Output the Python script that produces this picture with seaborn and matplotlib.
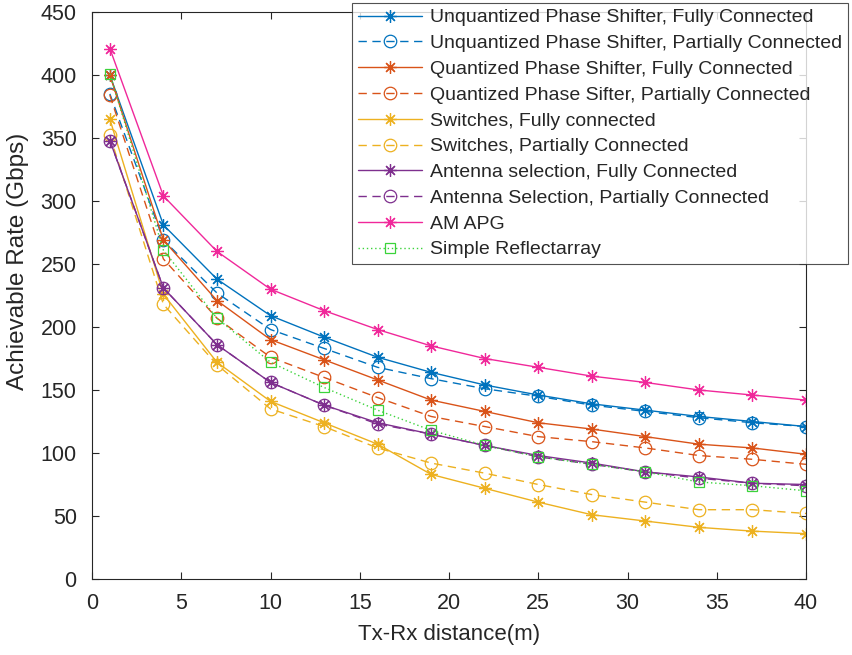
import matplotlib
matplotlib.use("Agg")
import matplotlib.pyplot as plt
import seaborn as sns
import pandas as pd

sns.set_theme(style="white")
plt.rcParams['font.family'] = ['Liberation Sans', 'DejaVu Sans']

distance = [1, 4, 7, 10, 13, 16, 19, 22, 25, 28, 31, 34, 37, 40]

ups_fc = [400, 281, 238, 209, 192, 176, 164, 154, 146, 139, 134, 129, 125, 121]
ups_pc = [385, 269, 227, 198, 183, 168, 159, 151, 145, 138, 133, 128, 124, 121]
qps_fc = [400, 269, 221, 190, 174, 158, 142, 133, 124, 119, 113, 107, 104, 99]
qps_pc = [384, 254, 207, 176, 160, 144, 129, 121, 113, 109, 104, 98, 95, 91]
sw_fc = [365, 226, 172, 141, 124, 107, 83, 72, 61, 51, 46, 41, 38, 36]
sw_pc = [352, 218, 170, 135, 121, 104, 92, 84, 75, 67, 61, 55, 55, 52]
as_fc = [348, 231, 186, 156, 138, 124, 115, 106, 98, 92, 85, 81, 76, 75]
as_pc = [348, 231, 186, 156, 138, 123, 115, 106, 97, 91, 85, 80, 76, 74]
am_apg = [421, 304, 260, 230, 213, 198, 185, 175, 168, 161, 156, 150, 146, 142]
simple_ra = [401, 261, 207, 172, 152, 134, 118, 106, 97, 91, 85, 77, 74, 70]

labels = [
    "Unquantized Phase Shifter, Fully Connected",
    "Unquantized Phase Shifter, Partially Connected",
    "Quantized Phase Shifter, Fully Connected",
    "Quantized Phase Sifter, Partially Connected",
    "Switches, Fully connected",
    "Switches, Partially Connected",
    "Antenna selection, Fully Connected",
    "Antenna Selection, Partially Connected",
    "AM APG",
    "Simple Reflectarray",
]
series = [ups_fc, ups_pc, qps_fc, qps_pc, sw_fc, sw_pc, as_fc, as_pc, am_apg, simple_ra]

blue = "#0072BD"; orange = "#D95319"; yellow = "#EDB120"; purple = "#7E2F8E"
pink = "#F0289A"; green = "#3BD33B"
colors = [blue, blue, orange, orange, yellow, yellow, purple, purple, pink, green]
star = (8, 2, 0)
markers = [star, 'o', star, 'o', star, 'o', star, 'o', star, 's']
styles = ['-', '--', '-', '--', '-', '--', '-', '--', '-', ':']

fig = plt.figure(figsize=(8.52, 6.55), dpi=100)
ax = fig.add_axes([92/852, 1-579/655, (806-92)/852, (579-12)/655])

for lab, vals, c, m, ls in zip(labels, series, colors, markers, styles):
    df = pd.DataFrame({"x": distance, "y": vals})
    kw = dict(marker=m, markersize=9 if m != 's' else 7.5, markerfacecolor='none',
              markeredgecolor=c, markeredgewidth=0.9, linewidth=1.0)
    if ls == '--':
        kw['dashes'] = (6, 4)
    elif ls == ':':
        kw['dashes'] = (1, 2)
    sns.lineplot(data=df, x="x", y="y", ax=ax, color=c, label=lab, **kw)

ax.set_xlim(0, 40)
ax.set_ylim(0, 450)
ax.set_xticks(range(0, 41, 5))
ax.set_yticks(range(0, 451, 50))
ax.tick_params(direction='in', length=5, width=0.8, colors='#262626', labelsize=15.5,
               top=True, right=True, bottom=True, left=True)
ax.tick_params(axis='y', pad=11)
ax.tick_params(axis='x', pad=10)
for s in ax.spines.values():
    s.set_color('#262626')
    s.set_linewidth(0.8)
ax.set_xlabel("Tx-Rx distance(m)", fontsize=16, color='#262626', labelpad=7)
ax.set_ylabel("Achievable Rate (Gbps)", fontsize=17.5, color='#262626')
ax.yaxis.set_label_coords(-0.088, 0.56)

leg = ax.legend(loc='upper right', bbox_to_anchor=(848/852, 1-3/655),
                bbox_transform=fig.transFigure, fontsize=14.0, frameon=True,
                fancybox=False, edgecolor='#262626', handlelength=3.3,
                handletextpad=0.4, labelspacing=0.42, borderpad=0.3,
                borderaxespad=0)
leg.get_frame().set_linewidth(0.8)
for t in leg.get_texts():
    t.set_color('#262626')

fig.savefig("out.png", dpi=100)
